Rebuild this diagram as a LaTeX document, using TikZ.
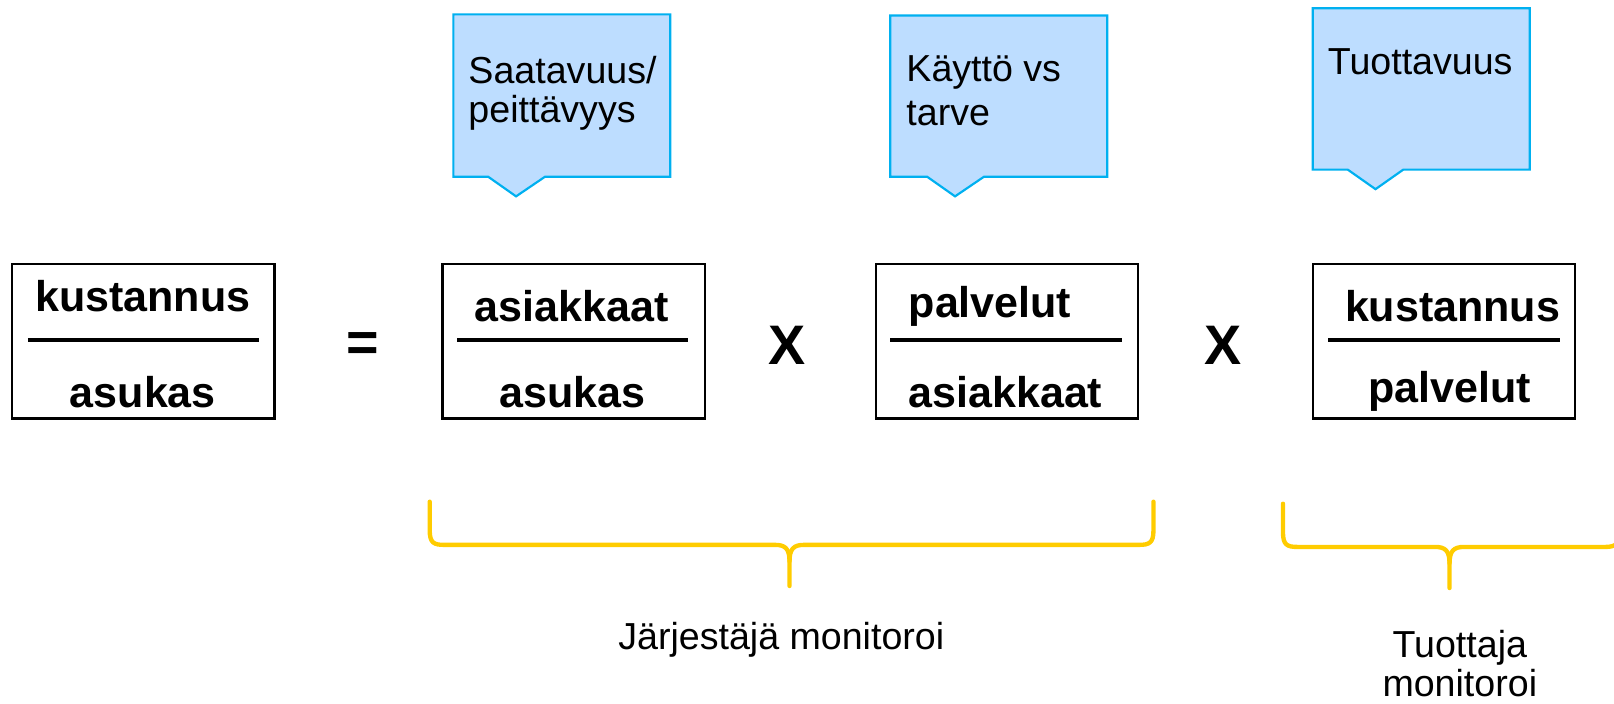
\documentclass[tikz,border=0pt]{standalone}
\usepackage{fontspec}
\setmainfont{Liberation Sans}
\definecolor{callfill}{HTML}{BDDDFF}
\definecolor{calldraw}{HTML}{00B0F0}
\definecolor{bracecol}{HTML}{FFCC00}
\begin{document}
\begin{tikzpicture}[x=0.01cm,y=-0.01cm,
  fracbox/.style={draw=black,line width=0.6pt,minimum width=2.55cm,minimum height=1.5cm,inner sep=0pt},
  fracline/.style={line width=1.2pt},
  btxt/.style={font=\fontsize{11.9}{14}\selectfont\bfseries,inner sep=0pt},
  optxt/.style={font=\fontsize{15.4}{18}\selectfont\bfseries,inner sep=0pt},
  ctxt/.style={font=\fontsize{10.4}{12}\selectfont,inner sep=0pt,align=left},
  callout/.style={draw=calldraw,fill=callfill,line width=0.6pt},
  brace/.style={draw=bracecol,line width=1.2pt,line cap=round}]
\useasboundingbox (0,0) rectangle (1570,684);
% callouts
\draw[callout] (441,14) -- (652,14) -- (652,172) -- (530,172) -- (502,191) -- (475,172) -- (441,172) -- cycle;
\draw[callout] (866,15) -- (1077,15) -- (1077,172) -- (957,172) -- (929,191) -- (902,172) -- (866,172) -- cycle;
\draw[callout] (1277,8) -- (1488,8) -- (1488,165) -- (1365,165) -- (1338,184) -- (1311,165) -- (1277,165) -- cycle;
\node[ctxt,anchor=west] (c1a) at (455,68) {Saatavuus/};
\node[ctxt,anchor=west] (c1b) at (455,110) {peittävyys};
\node[ctxt,anchor=west] (c2a) at (881,70) {Käyttö vs};
\node[ctxt,anchor=west] (c2b) at (881,110) {tarve};
\node[ctxt,anchor=west] (c3a) at (1291,60) {Tuottavuus};
% fraction boxes
\node[fracbox] (b1) at (139.5,332) {};
\node[fracbox] (b2) at (558,332) {};
\node[fracbox] (b3) at (979.5,332) {};
\node[fracbox] (b4) at (1404.5,332) {};
\draw[fracline] (27,331) -- (252,331);
\draw[fracline] (445,331) -- (669,331);
\draw[fracline] (866,331) -- (1091,331);
\draw[fracline] (1292,331) -- (1517,331);
\node[btxt] (n1) at (139,288) {kustannus};
\node[btxt] (d1) at (139,381) {asukas};
\node[btxt] (n2) at (556,298) {asiakkaat};
\node[btxt] (d2) at (557,381) {asukas};
\node[btxt] (n3) at (963,298) {palvelut};
\node[btxt] (d3) at (978,381) {asiakkaat};
\node[btxt] (n4) at (1413,298) {kustannus};
\node[btxt] (d4) at (1410,381) {palvelut};
\node[optxt] (eq) at (353,338) {=};
\node[optxt] (x1) at (766,336) {X};
\node[optxt] (x2) at (1190,336) {X};
% braces
\draw[brace] (418,488) -- (418,516) .. controls (418,528) and (422,530) .. (432,530) -- (754,530) .. controls (764,530) and (768,534) .. (768,546) -- (768,570);
\draw[brace] (1122,488) -- (1122,516) .. controls (1122,528) and (1118,530) .. (1108,530) -- (782,530) .. controls (772,530) and (768,534) .. (768,546);
\draw[brace] (1248,490) -- (1248,518) .. controls (1248,530) and (1252,532) .. (1262,532) -- (1396,532) .. controls (1406,532) and (1410,536) .. (1410,548) -- (1410,572);
\draw[brace] (1410,548) .. controls (1410,536) and (1414,532) .. (1424,532) -- (1562,532) .. controls (1572,532) and (1576,528) .. (1576,518) -- (1576,495);
\node[ctxt,align=center] (m1) at (760,622) {Järjestäjä monitoroi};
\node[ctxt,align=center,font=\fontsize{10.4}{10.8}\selectfont] (m2) at (1420,645) {Tuottaja\\monitoroi};
\end{tikzpicture}
\end{document}
